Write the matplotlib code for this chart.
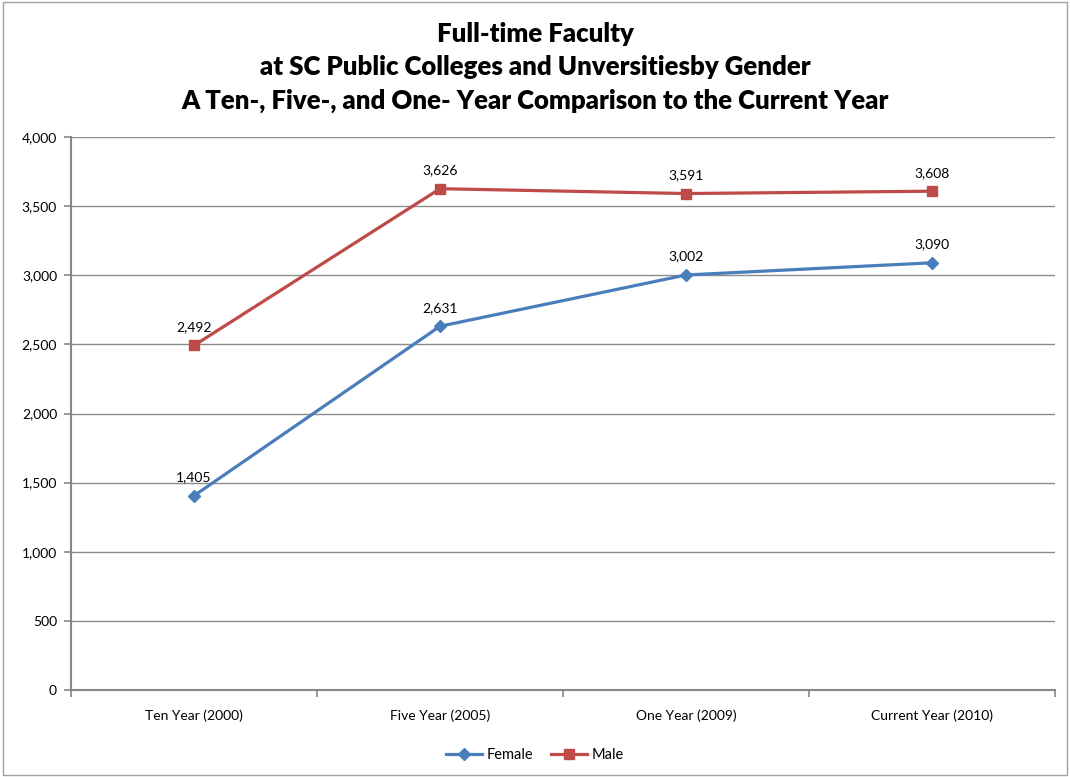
import matplotlib.pyplot as plt
from matplotlib.ticker import FuncFormatter, FixedLocator
from matplotlib.patches import Rectangle

categories = ["Ten Year (2000)", "Five Year (2005)", "One Year (2009)", "Current Year (2010)"]
female = [1405, 2631, 3002, 3090]
male = [2492, 3626, 3591, 3608]

plt.rcParams['font.family'] = ['Lato', 'DejaVu Sans']

fig = plt.figure(figsize=(10.7, 7.77), dpi=100)
ax = fig.add_axes([71 / 1070, 1 - 690 / 777, 984 / 1070, 553 / 777])

# chart border
fig.patches.append(Rectangle((3 / 1070, 2 / 777), 1064 / 1070, 773 / 777,
                             transform=fig.transFigure, fill=False,
                             edgecolor='#a0a0a0', linewidth=1))

x = list(range(len(categories)))
ax.plot(x, female, color='#4a7ebb', linewidth=2.3, marker='D', markersize=6.5,
        label='Female', zorder=3)
ax.plot(x, male, color='#be4b48', linewidth=2.3, marker='s', markersize=7.5,
        label='Male', zorder=3)

for series in (female, male):
    for xi, v in zip(x, series):
        ax.annotate(f"{v:,}", (xi, v), xytext=(0, 9), textcoords='offset points',
                    ha='center', va='bottom', fontsize=10, color='#000000')

ax.set_xlim(-0.5, len(categories) - 0.5)
ax.set_ylim(0, 4000)
ax.set_yticks(range(0, 4001, 500))
ax.yaxis.set_major_formatter(FuncFormatter(lambda v, p: f"{int(v):,}"))
ax.set_xticks(x)
ax.set_xticklabels(categories)
ax.xaxis.set_minor_locator(FixedLocator([i - 0.5 for i in range(len(categories) + 1)]))
ax.tick_params(axis='x', which='major', length=0, pad=14, labelsize=10)
ax.tick_params(axis='x', which='minor', length=5, color='#868686', width=1.2)
ax.tick_params(axis='y', length=5, color='#868686', width=1.2, labelsize=10, pad=5)

ax.grid(axis='y', color='#8c8c8c', linewidth=1)
ax.set_axisbelow(True)
for side in ['top', 'right']:
    ax.spines[side].set_visible(False)
for side in ['left', 'bottom']:
    ax.spines[side].set_color('#868686')
    ax.spines[side].set_linewidth(1.5)

title_lines = ["Full-time Faculty",
               "at SC Public Colleges and Unversitiesby Gender",
               "A Ten-, Five-, and One- Year Comparison to the Current Year"]
for line, ypix in zip(title_lines, [34, 67, 101]):
    fig.text(0.5, 1 - ypix / 777, line, ha='center', va='center',
             fontsize=18.5, fontweight='heavy')

fig.legend(loc='center', bbox_to_anchor=(0.5, 1 - 755 / 777), ncol=2, frameon=False,
           fontsize=10.5, handlelength=2.5, columnspacing=1.2, handletextpad=0.3)

fig.savefig("out.png", dpi=100, facecolor='white')
